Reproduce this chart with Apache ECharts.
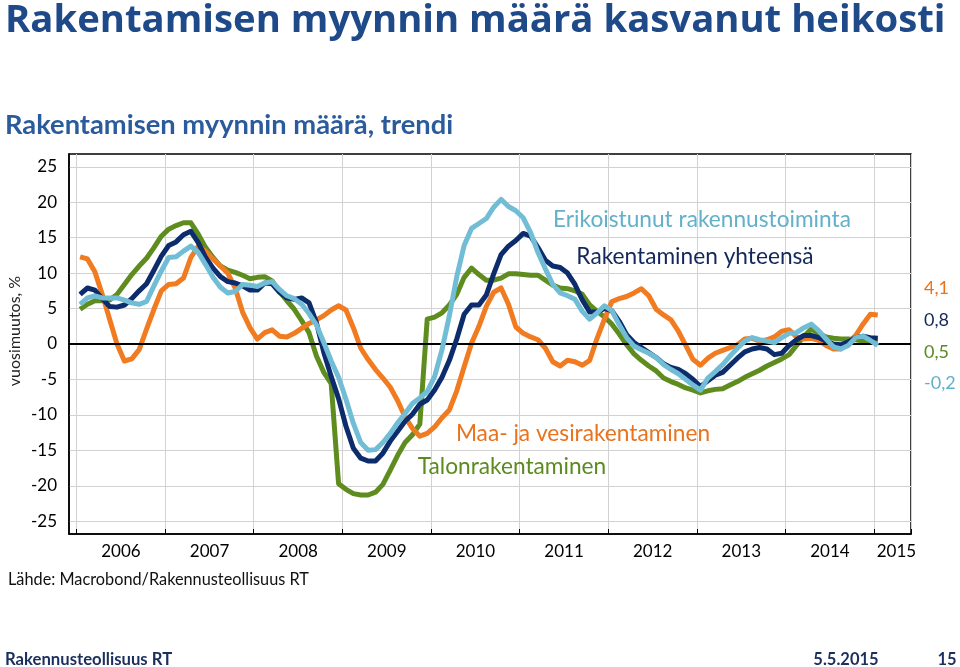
<!DOCTYPE html>
<html><head><meta charset="utf-8">
<script src="https://cdn.jsdelivr.net/npm/echarts@6/dist/echarts.min.js"></script>
<style>html,body{margin:0;padding:0;background:#fff}#c{width:960px;height:667px}</style>
</head><body><div id="c"></div>
<script>
// Month categories Dec 2005 .. May 2015
const firstYear = 2005, firstMonth = 12, monthCount = 114;
const categories = [];
for (let i = 0; i < monthCount; i++) {
  const t = firstYear * 12 + (firstMonth - 1) + i;
  categories.push(Math.floor(t / 12) + '-' + String(t % 12 + 1).padStart(2, '0'));
}
const yearLabels = ['2006','2007','2008','2009','2010','2011','2012','2013','2014','2015'];
const yTicks = [-25,-20,-15,-10,-5,0,5,10,15,20,25];

// Monthly values Jan 2006 .. Jan 2015 (year-on-year change, %)
const talonrakentaminen = [
  4.9,5.6,6.1,6.1,6.2,7.0,8.4,9.8,11.0,12.1,13.6,15.2,
  16.2,16.7,17.1,17.1,15.5,13.6,12.2,11.0,10.4,10.1,9.7,9.2,
  9.4,9.5,8.9,7.4,6.1,4.9,3.3,1.6,-1.7,-4.0,-5.6,-19.7,
  -20.5,-21.1,-21.3,-21.3,-20.9,-19.8,-17.8,-15.7,-13.9,-12.8,-11.3,3.5,
  3.8,4.4,5.5,7.0,9.4,10.7,9.8,9.0,9.0,9.3,9.9,9.9,
  9.8,9.7,9.7,9.0,8.3,7.9,7.8,7.5,7.0,5.5,4.6,3.8,
  2.8,1.4,-0.1,-1.4,-2.3,-3.1,-3.8,-4.8,-5.3,-5.7,-6.2,-6.5,
  -6.9,-6.6,-6.4,-6.3,-5.8,-5.3,-4.7,-4.2,-3.7,-3.1,-2.6,-2.1,
  -1.5,-0.2,1.1,2.1,1.5,1.0,0.8,0.7,0.7,0.6,0.4,0.5,
  0.5
];
const maaJaVesi = [
  12.3,12.0,10.2,7.0,3.5,0.0,-2.4,-2.1,-0.8,2.1,4.9,7.5,
  8.4,8.5,9.3,12.2,13.8,13.1,12.0,11.0,10.0,7.9,4.5,2.3,
  0.7,1.6,2.0,1.1,1.0,1.5,2.2,2.9,3.4,4.0,4.8,5.4,
  4.8,2.3,-0.6,-2.2,-3.6,-4.8,-6.1,-8.0,-10.3,-11.9,-13.0,-12.6,
  -11.7,-10.4,-9.3,-6.6,-3.2,0.1,2.5,5.3,7.3,7.9,5.6,2.4,
  1.5,1.0,0.6,-0.6,-2.5,-3.1,-2.3,-2.5,-3.0,-2.3,0.8,3.5,
  6.0,6.4,6.7,7.2,7.8,6.8,4.9,4.1,3.4,1.8,-0.2,-2.2,
  -3.0,-2.0,-1.3,-0.9,-0.5,-0.1,0.7,0.8,0.4,0.6,1.0,1.8,
  2.0,1.0,0.7,0.8,0.5,-0.2,-0.7,-0.7,0.2,1.2,2.8,4.2,
  4.1
];
const yhteensa = [
  7.0,7.9,7.6,6.4,5.3,5.2,5.5,6.4,7.5,8.5,10.4,12.4,
  13.9,14.4,15.4,15.9,14.3,12.2,10.7,9.5,8.8,8.6,8.2,7.6,
  7.6,8.6,8.5,7.3,6.5,6.3,6.5,5.8,3.0,-1.2,-4.6,-7.7,
  -11.6,-14.7,-16.1,-16.5,-16.5,-15.4,-13.7,-12.3,-10.9,-9.9,-8.5,-7.9,
  -6.5,-4.7,-2.3,0.7,4.2,5.5,5.5,6.9,9.9,12.6,13.8,14.6,
  15.6,15.2,13.6,11.8,11.0,10.8,10.0,8.4,6.2,4.5,4.5,5.0,
  4.7,3.2,1.3,0.2,-0.5,-1.2,-1.9,-2.8,-3.3,-3.6,-4.2,-5.0,
  -6.0,-5.2,-4.4,-4.0,-3.0,-2.0,-1.1,-0.7,-0.5,-0.7,-1.5,-1.3,
  -0.2,0.6,1.2,1.2,0.9,0.4,0.0,-0.1,0.3,0.9,1.1,0.9,
  0.8
];
const erikoistunut = [
  5.6,6.5,6.8,6.5,6.5,6.5,6.2,5.8,5.6,6.0,8.2,10.3,
  12.2,12.3,13.1,13.8,12.9,11.2,9.4,8.0,7.2,7.4,8.4,8.3,
  8.1,8.6,8.8,7.7,6.8,6.4,5.6,4.3,2.7,0.2,-2.4,-4.7,
  -7.8,-11.2,-13.9,-15.0,-14.9,-13.9,-12.6,-11.1,-9.8,-8.4,-7.6,-6.7,
  -4.6,-0.8,4.0,9.5,13.9,16.3,17.0,17.7,19.3,20.4,19.4,18.8,
  17.8,15.7,12.9,10.6,8.4,7.2,6.8,6.3,4.6,3.5,4.4,5.4,
  4.7,2.7,0.9,-0.3,-0.8,-1.3,-1.9,-2.9,-3.6,-4.2,-5.0,-5.8,
  -6.5,-4.8,-3.9,-2.9,-1.7,-0.6,0.4,0.9,0.6,0.4,0.2,0.9,
  1.5,1.6,2.3,2.8,1.9,0.7,-0.4,-0.7,-0.2,0.9,1.1,0.5,
  -0.2
];

const seriesNames = ['Talonrakentaminen','Maa- ja vesirakentaminen','Rakentaminen yhteensä','Erikoistunut rakennustoiminta'];
const seriesColors = ['#5e8c1e','#f07b20','#0d2c6c','#72bdd6'];
const labelColors = ['#5b8a1f','#e9731d','#13285a','#62b0c9'];

function pad(vals) {
  const out = new Array(monthCount).fill(null);
  for (let i = 0; i < vals.length; i++) out[i + 1] = vals[i];
  return out;
}
const FONT = 'Lato, "Open Sans", sans-serif';
const isJan = (i, v) => String(v).endsWith('-01');
const isLabel = (i, v) => {
  const y = String(v).slice(0, 4);
  return yearLabels.indexOf(y) >= 0 && String(v) === y + (y === '2015' ? '-04' : '-07');
};
const fmt = v => v.toFixed(1).replace('.', ',');

const data = [talonrakentaminen, maaJaVesi, yhteensa, erikoistunut];
const series = [{
  type: 'line', data: [], z: 1, silent: true,
  markLine: { silent: true, symbol: 'none', label: { show: false },
    lineStyle: { color: '#000', width: 2, type: 'solid' }, data: [{ yAxis: 0 }] }
}];
data.forEach((vals, k) => series.push({
  name: seriesNames[k], type: 'line', data: pad(vals), symbol: 'none', z: 3 + k,
  lineStyle: { color: seriesColors[k], width: 5, cap: 'butt', join: 'round' },
  itemStyle: { color: seriesColors[k] }, animation: false
}));

const endLabelY = [352, 288, 320, 383];
const inLabel = [
  { x: 512, y: 467 }, { x: 583, y: 434 }, { x: 695, y: 257 }, { x: 702, y: 220 }
];
const graphic = [
  { type: 'text', x: 5, y: 21, style: { text: 'Rakentamisen myynnin määrä kasvanut heikosti', fill: '#1f4a8a', font: 'bold 38.3px "Open Sans", sans-serif', verticalAlign: 'middle' } },
  { type: 'text', x: 5, y: 125, style: { text: 'Rakentamisen myynnin määrä, trendi', fill: '#2a5b9c', font: 'bold 27.3px ' + FONT, verticalAlign: 'middle' } },
  { type: 'text', x: 15, y: 331, rotation: Math.PI / 2, style: { text: 'vuosimuutos, %', fill: '#222', font: '16px ' + FONT, align: 'center', verticalAlign: 'middle' } },
  { type: 'text', x: 8, y: 580, style: { text: 'Lähde: Macrobond/Rakennusteollisuus RT', fill: '#111', font: '16.3px ' + FONT, verticalAlign: 'middle' } },
  { type: 'text', x: 5, y: 660, style: { text: 'Rakennusteollisuus RT', fill: '#1b2f5e', font: 'bold 16.7px ' + FONT, verticalAlign: 'middle' } },
  { type: 'text', x: 846, y: 660, style: { text: '5.5.2015', fill: '#1b2f5e', font: 'bold 16.5px ' + FONT, align: 'center', verticalAlign: 'middle' } },
  { type: 'text', x: 947, y: 660, style: { text: '15', fill: '#1b2f5e', font: 'bold 16.5px ' + FONT, align: 'center', verticalAlign: 'middle' } }
];
data.forEach((vals, k) => {
  graphic.push({ type: 'text', x: inLabel[k].x, y: inLabel[k].y, z: 10,
    style: { text: seriesNames[k], fill: labelColors[k], font: '22.7px ' + FONT, align: 'center', verticalAlign: 'middle' } });
  graphic.push({ type: 'text', x: 924, y: endLabelY[k], z: 10,
    style: { text: fmt(vals[vals.length - 1]), fill: labelColors[k], font: '18px ' + FONT, verticalAlign: 'middle' } });
});

const chart = echarts.init(document.getElementById('c'), null, { renderer: 'canvas' });
chart.setOption({
  animation: false,
  backgroundColor: '#fff',
  textStyle: { fontFamily: FONT },
  grid: { left: 69, right: 49, top: 154, bottom: 133, show: true, borderColor: '#000', borderWidth: 1.5, containLabel: false },
  xAxis: {
    type: 'category', data: categories, boundaryGap: true,
    axisLine: { show: true, onZero: false, lineStyle: { color: '#000', width: 1.5 } },
    axisTick: { show: true, inside: true, length: 5, interval: isJan, lineStyle: { color: '#000' } },
    axisLabel: { interval: isLabel, formatter: v => v.slice(0, 4), color: '#000', fontSize: 17, fontFamily: FONT, margin: 9, padding: [0, 7, 0, 0] },
    splitLine: { show: true, interval: isJan, lineStyle: { color: '#d2d2d2', width: 1 } }
  },
  yAxis: {
    type: 'value', min: -26.8, max: 26.8,
    axisLine: { show: true, lineStyle: { color: '#000', width: 1.5 } },
    axisTick: { show: false, customValues: yTicks },
    axisLabel: { customValues: yTicks, color: '#000', fontSize: 17, fontFamily: FONT, margin: 12 },
    splitLine: { show: true, lineStyle: { color: '#d2d2d2', width: 1 } }
  },
  series: series,
  graphic: graphic
});
</script>
</body></html>
